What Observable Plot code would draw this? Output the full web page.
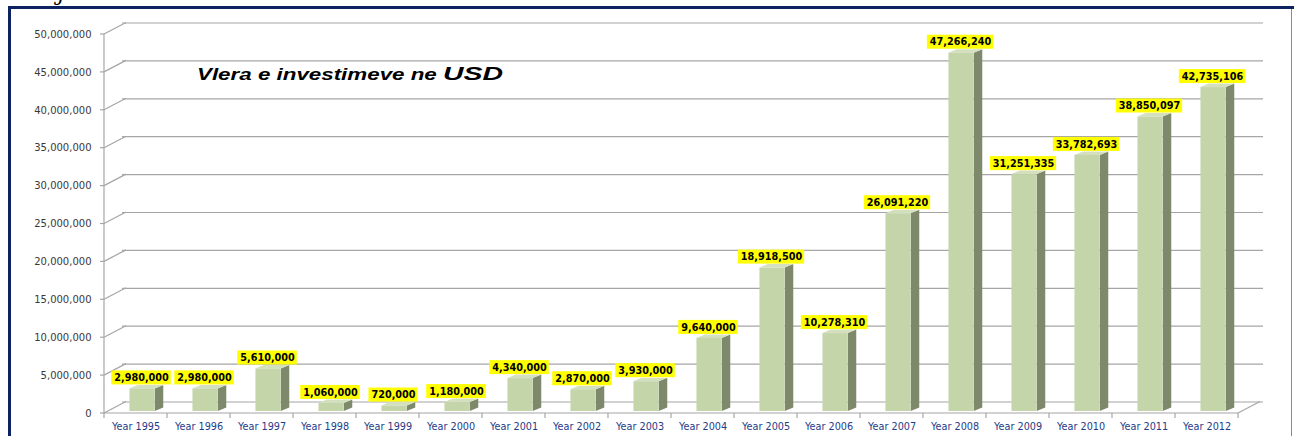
<!DOCTYPE html>
<html>
<head>
<meta charset="utf-8">
<script src="https://cdn.jsdelivr.net/npm/d3@7"></script>
<script src="https://cdn.jsdelivr.net/npm/@observablehq/plot@0.6"></script>
<style>
  html, body { margin: 0; padding: 0; background: #fff; }
  #chart svg { display: block; }
</style>
</head>
<body>
<div id="chart"></div>
<script>
// ---- data ----
const years = ["Year 1995","Year 1996","Year 1997","Year 1998","Year 1999","Year 2000","Year 2001","Year 2002","Year 2003","Year 2004","Year 2005","Year 2006","Year 2007","Year 2008","Year 2009","Year 2010","Year 2011","Year 2012"];
const values = [2980000, 2980000, 5610000, 1060000, 720000, 1180000, 4340000, 2870000, 3930000, 9640000, 18918500, 10278310, 26091220, 47266240, 31251335, 33782693, 38850097, 42735106];
const yTicks = [0, 5000000, 10000000, 15000000, 20000000, 25000000, 30000000, 35000000, 40000000, 45000000, 50000000];
const titleMain = "Vlera e investimeve ne ";
const titleUnit = "USD";

const data = years.map((year, i) => ({year, value: values[i]}));
const fmt = d3.format(",");

// ---- layout / style ----
const W = 1294, H = 436;
const mL = 100, mR = 53, mT = 34, mB = 23;
const bw = (W - mL - mR) / years.length;
const wallDX = 22, wallDY = -11.5;      // 3D depth of the back wall
const barShift = 6.5, barLift = -2;     // bar front face offset within its band
const barHalf = 12.75;                  // half width of the bar front face
const sideDX = 8.5, sideDY = -3.5;      // bar depth
const gridColor = "#a6a6a6";
const frontFill = "#c4d5a9", sideFill = "#7e886a", topFill = "#d3dfbf";
const labelFont = "bold 9.7px 'DejaVu Sans'";

const canvas = document.createElement("canvas");
const ctx = canvas.getContext("2d");
ctx.font = labelFont;

function bandw(x) { return typeof x.bandwidth === "function" ? x.bandwidth() : x.bandwidth; }

// 3D wall diagonals, floor, axis line and ticks
function wallMark(index, scales) {
  const x = scales.x, y = scales.y;
  const b = bandw(x);
  const g = d3.create("svg:g").attr("fill", "none").attr("stroke", gridColor).attr("stroke-width", 1.2);
  const x0 = x(years[0]);
  const xEnd = x(years[years.length - 1]) + b;
  for (const t of yTicks) {
    g.append("line").attr("x1", x0).attr("y1", y(t)).attr("x2", x0 + wallDX).attr("y2", y(t) + wallDY);
    g.append("line").attr("x1", x0 - 4).attr("y1", y(t)).attr("x2", x0).attr("y2", y(t));
  }
  // y axis line
  g.append("line").attr("x1", x0).attr("y1", y(0)).attr("x2", x0).attr("y2", y(yTicks[yTicks.length - 1]));
  // floor front edge and right diagonal
  g.append("line").attr("x1", x0).attr("y1", y(0)).attr("x2", xEnd).attr("y2", y(0));
  g.append("line").attr("x1", xEnd).attr("y1", y(0)).attr("x2", xEnd + wallDX).attr("y2", y(0) + wallDY);
  // x ticks at category boundaries
  years.forEach((yr) => {
    g.append("line").attr("x1", x(yr)).attr("y1", y(0)).attr("x2", x(yr)).attr("y2", y(0) + 5);
  });
  g.append("line").attr("x1", xEnd).attr("y1", y(0)).attr("x2", xEnd).attr("y2", y(0) + 5);
  return g.node();
}

// side and top faces of each bar
function barDepthMark(index, scales) {
  const x = scales.x, y = scales.y;
  const b = bandw(x);
  const g = d3.create("svg:g");
  data.forEach((d) => {
    const cx = x(d.year) + b / 2 + barShift;
    const xl = cx - barHalf, xr = cx + barHalf;
    const yb = y(0) + barLift, yt = y(d.value) + barLift;
    g.append("polygon")
      .attr("points", [[xr, yb], [xr, yt], [xr + sideDX, yt + sideDY], [xr + sideDX, yb + sideDY]].join(" "))
      .attr("fill", sideFill);
    g.append("polygon")
      .attr("points", [[xl, yt], [xr, yt], [xr + sideDX, yt + sideDY], [xl + sideDX, yt + sideDY]].join(" "))
      .attr("fill", topFill);
  });
  return g.node();
}

// yellow label boxes
function labelBoxMark(index, scales) {
  const x = scales.x, y = scales.y;
  const b = bandw(x);
  const g = d3.create("svg:g").attr("fill", "#ffff00");
  data.forEach((d) => {
    const w = ctx.measureText(fmt(d.value)).width + 5;
    const cx = x(d.year) + b / 2 + barShift - 1;
    const bottom = y(d.value) + barLift + sideDY - 0.5;
    g.append("rect").attr("x", cx - w / 2).attr("y", bottom - 14).attr("width", w).attr("height", 14);
  });
  return g.node();
}

// title and frame
function decorMark() {
  const g = d3.create("svg:g");
  const t = g.append("text")
    .attr("text-anchor", "start")
    .attr("font-family", "'Liberation Sans', Arial, sans-serif")
    .attr("font-weight", "bold").attr("font-style", "italic").attr("fill", "#000");
  t.append("tspan").attr("x", 197).attr("y", 80).attr("font-size", 16)
    .attr("textLength", 246).attr("lengthAdjust", "spacingAndGlyphs").text(titleMain);
  t.append("tspan").attr("x", 443).attr("y", 80).attr("font-size", 19)
    .attr("textLength", 60).attr("lengthAdjust", "spacingAndGlyphs").text(titleUnit);
  // partially visible text from above
  g.append("text").attr("text-anchor", "start").attr("x", 58).attr("y", 0).attr("font-family", "'DejaVu Serif', serif")
    .attr("font-style", "italic").attr("font-size", 22).attr("fill", "#000").text("j");
  // frame
  g.append("line").attr("x1", 8).attr("y1", 7.5).attr("x2", W).attr("y2", 7.5).attr("stroke", "#0d2260").attr("stroke-width", 3);
  g.append("line").attr("x1", 9.5).attr("y1", 6).attr("x2", 9.5).attr("y2", H).attr("stroke", "#0d2260").attr("stroke-width", 3);
  g.append("line").attr("x1", 1291.5).attr("y1", 9).attr("x2", 1291.5).attr("y2", H).attr("stroke", "#8a8a8a").attr("stroke-width", 1);
  return g.node();
}

const chart = Plot.plot({
  width: W,
  height: H,
  marginLeft: mL,
  marginRight: mR,
  marginTop: mT,
  marginBottom: mB,
  x: {domain: years, padding: 0},
  y: {domain: [0, 50000000]},
  style: {fontFamily: "'DejaVu Sans', Verdana, sans-serif", background: "#fff", overflow: "visible"},
  marks: [
    Plot.ruleY(yTicks, {dx: wallDX, dy: wallDY, stroke: gridColor, strokeWidth: 1.2}),
    wallMark,
    Plot.axisY({ticks: yTicks, tickSize: 0, tickPadding: 9, tickFormat: fmt, label: null, fill: "#3a3a3a", fontSize: 10}),
    Plot.axisX({tickSize: 0, tickPadding: 10, label: null, fill: "#1f3c88", fontSize: 9.7}),
    barDepthMark,
    Plot.barY(data, {x: "year", y: "value", fill: frontFill, dy: barLift,
      insetLeft: bw / 2 + barShift - barHalf, insetRight: bw / 2 - barShift - barHalf}),
    labelBoxMark,
    Plot.text(data, {x: "year", y: "value", text: (d) => fmt(d.value), dx: barShift - 1, dy: barLift + sideDY - 0.5 - 7,
      fill: "#000", fontWeight: "bold", fontSize: 9.7, fontFamily: "'DejaVu Sans'"}),
    decorMark
  ]
});

document.getElementById("chart").appendChild(chart);
</script>
</body>
</html>
